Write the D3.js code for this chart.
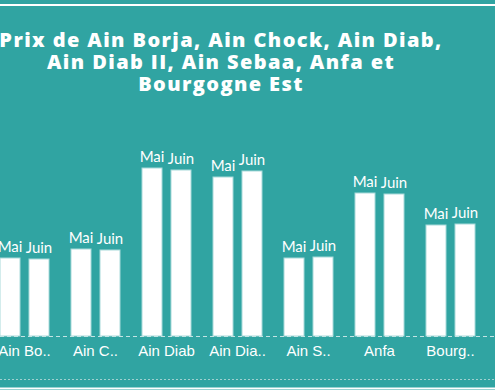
<!DOCTYPE html>
<html>
<head>
<meta charset="utf-8">
<script src="https://cdn.jsdelivr.net/npm/d3@7"></script>
<style>
  html, body { margin: 0; padding: 0; background: #30a4a2; overflow: hidden; }
  svg { display: block; }
</style>
</head>
<body>
<div id="chart"></div>
<script>
// Data (prix au m², estimated)
const quartiers = ["Ain Borja", "Ain Chock", "Ain Diab", "Ain Diab II", "Ain Sebaa", "Anfa", "Bourgogne Est"];
const shortLabels = ["Ain Bo..", "Ain C..", "Ain Diab", "Ain Dia..", "Ain S..", "Anfa", "Bourg.."];
const mois = ["Mai", "Juin"];
const prixMai = [7800, 8700, 16800, 15900, 7800, 14300, 11100];
const prixJuin = [7700, 8600, 16600, 16500, 7900, 14200, 11200];
const titleLines = ["Prix de Ain Borja, Ain Chock, Ain Diab,", "Ain Diab II, Ain Sebaa, Anfa et", "Bourgogne Est"];

const width = 495, height = 390;
const baseY = 336;

const svg = d3.select("#chart")
  .append("svg")
  .attr("width", width)
  .attr("height", height);

// top white rule
svg.append("line")
  .attr("x1", 0).attr("x2", width)
  .attr("y1", 5).attr("y2", 5)
  .attr("stroke", "#ffffff")
  .attr("stroke-width", 2);

// title, one text per line
svg.append("g")
  .selectAll("text")
  .data(titleLines)
  .enter()
  .append("text")
  .attr("x", 221)
  .attr("y", (d, i) => 47 + i * 22)
  .attr("text-anchor", "middle")
  .attr("fill", "#ffffff")
  .style("font-family", "'Open Sans', sans-serif")
  .style("font-weight", 800)
  .style("font-size", "20px")
  .style("letter-spacing", "1.4px")
  .text(d => d);

// scales
const x0 = d3.scaleBand()
  .domain(quartiers)
  .range([-11, 486])
  .paddingInner(22 / 71)
  .paddingOuter(11 / 71);

const x1 = d3.scaleBand()
  .domain(mois)
  .range([0, x0.bandwidth()])
  .paddingInner(9 / 29);

const y = d3.scaleLinear()
  .domain([0, 20000])
  .range([baseY, baseY - 200]);

const rows = quartiers.map((q, i) => ({
  quartier: q,
  values: [
    { mois: "Mai", value: prixMai[i] },
    { mois: "Juin", value: prixJuin[i] }
  ]
}));

const groups = svg.append("g")
  .selectAll("g")
  .data(rows)
  .enter()
  .append("g")
  .attr("transform", d => `translate(${x0(d.quartier)},0)`);

groups.selectAll("rect")
  .data(d => d.values)
  .enter()
  .append("rect")
  .attr("x", d => x1(d.mois))
  .attr("y", d => y(d.value))
  .attr("width", x1.bandwidth())
  .attr("height", d => baseY - y(d.value))
  .attr("fill", "#ffffff")
  .attr("stroke", "#a8dada")
  .attr("stroke-width", 1);

// bar labels
groups.selectAll("text")
  .data(d => d.values)
  .enter()
  .append("text")
  .attr("x", d => x1(d.mois) + x1.bandwidth() / 2)
  .attr("y", d => y(d.value) - 6)
  .attr("text-anchor", "middle")
  .attr("fill", "#ffffff")
  .style("font-family", "Lato, sans-serif")
  .style("font-size", "15px")
  .text(d => d.mois);

// x axis
const xAxis = svg.append("g")
  .attr("transform", `translate(0,${baseY})`)
  .call(d3.axisBottom(x0).tickSize(0).tickPadding(9).tickFormat((d, i) => shortLabels[i]));
xAxis.select(".domain").remove();
xAxis.selectAll("text")
  .attr("fill", "#ffffff")
  .style("font-family", "'Liberation Sans', Arial, sans-serif")
  .style("font-size", "15px");

// dashed baseline
svg.append("line")
  .attr("x1", 0).attr("x2", width)
  .attr("y1", baseY + 0.5).attr("y2", baseY + 0.5)
  .attr("stroke", "#c4e4e4")
  .attr("stroke-width", 1)
  .attr("stroke-dasharray", "4,3");

// dotted footer line
svg.append("line")
  .attr("x1", 0).attr("x2", width)
  .attr("y1", 379.5).attr("y2", 379.5)
  .attr("stroke", "#9fd1d0")
  .attr("stroke-width", 1)
  .attr("stroke-dasharray", "2,2");

// bottom white rule
svg.append("line")
  .attr("x1", 0).attr("x2", width)
  .attr("y1", 388.5).attr("y2", 388.5)
  .attr("stroke", "#ffffff")
  .attr("stroke-width", 2);
</script>
</body>
</html>
